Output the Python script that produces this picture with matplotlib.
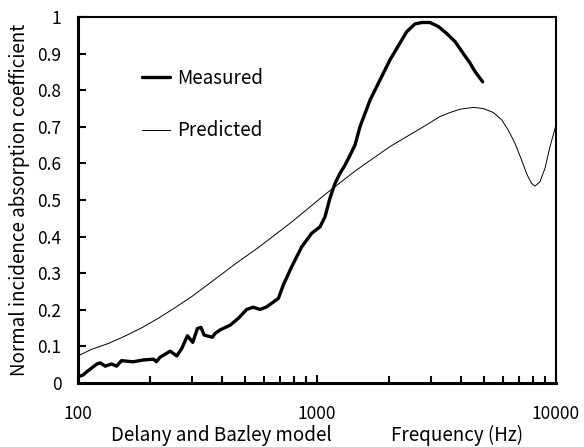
import matplotlib
matplotlib.use("Agg")
import matplotlib.pyplot as plt
import numpy as np

plt.rcParams['font.family'] = ['Noto Sans CJK JP', 'DejaVu Sans']

# measured absorption coefficient
meas_f = [100, 105, 109, 120, 124, 130, 138, 145, 152, 170, 188, 207, 213, 220,
          243, 259, 272, 287, 302, 316, 327, 337, 365, 374, 393, 433, 469, 508,
          541, 577, 616, 646, 689, 723, 784, 863, 950, 1030, 1080, 1133, 1189,
          1248, 1309, 1374, 1442, 1513, 1667, 1835, 2020, 2225, 2374, 2570,
          2742, 2970, 3218, 3488, 3778, 4096, 4368, 4583, 4934]
meas_a = [0.017, 0.022, 0.031, 0.052, 0.055, 0.046, 0.052, 0.046, 0.061, 0.058,
          0.063, 0.065, 0.058, 0.070, 0.087, 0.074, 0.095, 0.129, 0.111, 0.149,
          0.152, 0.131, 0.125, 0.135, 0.145, 0.158, 0.177, 0.201, 0.207, 0.201,
          0.208, 0.218, 0.231, 0.268, 0.318, 0.372, 0.409, 0.427, 0.454, 0.505,
          0.545, 0.573, 0.595, 0.622, 0.650, 0.700, 0.773, 0.828, 0.883, 0.929,
          0.960, 0.981, 0.985, 0.985, 0.974, 0.955, 0.933, 0.900, 0.874, 0.851,
          0.823]

# Delany and Bazley prediction
pred_f = [100, 114, 134, 157, 185, 217, 255, 299, 351, 412, 454, 568, 784,
          1000, 1080, 1442, 2020, 2785, 3271, 3602, 3966, 4510, 4965, 5466,
          5927, 6313, 6736, 7181, 7580, 7910, 8170, 8575, 8995, 9440, 10000]
pred_a = [0.074, 0.092, 0.108, 0.128, 0.151, 0.177, 0.206, 0.236, 0.270, 0.304,
          0.325, 0.370, 0.440, 0.497, 0.515, 0.579, 0.646, 0.700, 0.728, 0.739,
          0.748, 0.753, 0.750, 0.739, 0.719, 0.691, 0.655, 0.609, 0.568, 0.545,
          0.538, 0.550, 0.587, 0.646, 0.705]

yticks = [0, 0.1, 0.2, 0.3, 0.4, 0.5, 0.6, 0.7, 0.8, 0.9, 1]
ylabels = ['0', '0.1', '0.2', '0.3', '0.4', '0.5', '0.6', '0.7', '0.8', '0.9', '1']
xticks = [100, 1000, 10000]
xlabels = ['100', '1000', '10000']

fig = plt.figure(figsize=(5.84, 4.47), dpi=100)
ax = fig.add_axes([78 / 584, 1 - 383 / 447, 478 / 584, 366 / 447])

ax.plot(meas_f, meas_a, color='black', lw=2.4, label='Measured',
        solid_joinstyle='round', solid_capstyle='round')
ax.plot(pred_f, pred_a, color='black', lw=0.7, label='Predicted',
        solid_joinstyle='round')

ax.set_xscale('log')
ax.set_xlim(100, 10000)
ax.set_ylim(0, 1)
ax.set_xticks(xticks)
ax.set_xticklabels(xlabels)
ax.set_yticks(yticks)
ax.set_yticklabels(ylabels)
ax.xaxis.set_minor_formatter(matplotlib.ticker.NullFormatter())

ax.tick_params(axis='both', which='major', direction='in', length=6, width=1.5,
               labelsize=12.5)
ax.tick_params(axis='x', which='minor', direction='in', length=5, width=1.5)
ax.tick_params(axis='y', pad=12)
ax.tick_params(axis='x', pad=16)

for side in ['left', 'bottom']:
    ax.spines[side].set_linewidth(2.2)
for side in ['top', 'right']:
    ax.spines[side].set_linewidth(1.5)

ax.set_ylabel('Normal incidence absorption coefficient', fontsize=13.5)
ax.yaxis.set_label_coords(-0.1, 0.5)

fig.text(221 / 584, 1 - 441 / 447, 'Delany and Bazley model', fontsize=13.5,
         ha='center', va='baseline')
fig.text(457 / 584, 1 - 441 / 447, 'Frequency (Hz)', fontsize=13.5,
         ha='center', va='baseline')

ax.legend(loc='upper left', bbox_to_anchor=(0.134, 0.862), frameon=False,
          fontsize=13.5, handlelength=1.5, handletextpad=0.35, labelspacing=1.7,
          borderpad=0, borderaxespad=0)

fig.savefig('out.png', dpi=100)
plt.close('all')
